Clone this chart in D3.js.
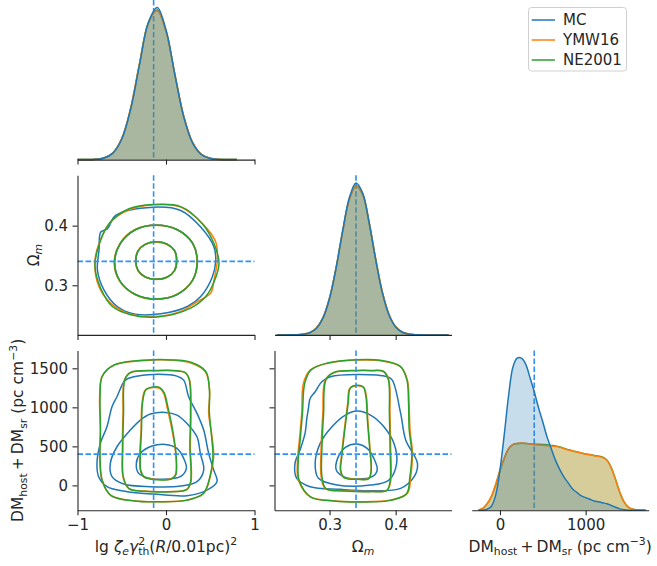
<!DOCTYPE html>
<html>
<head>
<meta charset="utf-8">
<script src="https://cdn.jsdelivr.net/npm/d3@7"></script>
<style>
  body { margin: 0; background: #fff; }
  svg { display: block; }
</style>
</head>
<body>
<div id="corner"></div>
<script>

// series and fiducial values
var series = ["MC", "YMW16", "NE2001"];
var colors = ["#1f77b4", "#ff7f0e", "#2ca02c"];
var truth_lg = -0.14, truth_om = 0.34, truth_dm = 400;

// tick values
var lg_ticks = [-1, 0, 1];
var om_ticks = [0.3, 0.4];
var dm_ticks_x = [0, 1000];
var dm_ticks_y = [0, 500, 1000, 1500];

// 1D marginal densities
var lg_grid = [-1.0, -0.9, -0.8, -0.7, -0.6, -0.5, -0.4, -0.3, -0.2, -0.1, 0.0, 0.1, 0.2, 0.3, 0.4, 0.5, 0.6, 0.7, 0.8];
var lg_dens_mc  = [0, 0.001, 0.004, 0.021, 0.087, 0.277, 0.677, 1.272, 1.839, 2.043, 1.745, 1.145, 0.578, 0.224, 0.067, 0.015, 0.003, 0.0005, 0];
var lg_dens_ymw = [0, 0.002, 0.006, 0.024, 0.092, 0.285, 0.690, 1.290, 1.830, 2.000, 1.720, 1.150, 0.590, 0.235, 0.072, 0.018, 0.004, 0.001, 0];
var lg_dens_ne  = [0, 0.001, 0.005, 0.022, 0.089, 0.280, 0.680, 1.280, 1.840, 2.010, 1.730, 1.140, 0.580, 0.230, 0.070, 0.017, 0.004, 0.001, 0];

var om_grid = [0.22, 0.23, 0.24, 0.25, 0.26, 0.27, 0.28, 0.29, 0.30, 0.31, 0.32, 0.33, 0.34, 0.35, 0.36, 0.37, 0.38, 0.39, 0.40, 0.41, 0.42, 0.43, 0.44, 0.45, 0.46, 0.47, 0.48];
var om_dens_mc  = [0, 0.0005, 0.003, 0.015, 0.063, 0.23, 0.70, 1.81, 3.96, 7.27, 11.31, 14.82, 16.40, 15.33, 12.10, 8.06, 4.53, 2.15, 0.86, 0.29, 0.084, 0.02, 0.004, 0.001, 0, 0, 0];
var om_dens_ymw = [0, 0.001, 0.004, 0.018, 0.07, 0.25, 0.74, 1.86, 3.98, 7.25, 11.20, 14.60, 16.05, 15.20, 12.10, 8.15, 4.60, 2.20, 0.90, 0.31, 0.09, 0.025, 0.006, 0.001, 0, 0, 0];
var om_dens_ne  = [0, 0.001, 0.004, 0.017, 0.068, 0.24, 0.73, 1.85, 3.99, 7.30, 11.25, 14.65, 16.10, 15.15, 12.00, 8.05, 4.55, 2.18, 0.88, 0.30, 0.088, 0.022, 0.005, 0.001, 0, 0, 0];

var dm_grid = [-250, -200, -150, -100, -50, 0, 50, 100, 150, 200, 250, 300, 350, 400, 450, 500, 550, 600, 650, 700,
               750, 800, 850, 900, 950, 1000, 1050, 1100, 1150, 1200, 1250, 1300, 1350, 1400, 1450, 1500, 1550, 1600, 1650, 1700];
var dm_dens_mc  = [0, 0, 0.012, 0.048, 0.18, 0.48, 0.90, 1.36, 1.70, 1.81, 1.81, 1.74, 1.58, 1.41, 1.22, 1.05, 0.87, 0.73, 0.59, 0.48,
                   0.39, 0.32, 0.25, 0.21, 0.17, 0.15, 0.13, 0.11, 0.10, 0.088, 0.076, 0.056, 0.036, 0.016, 0.004, 0, 0, 0, 0, 0];
var dm_dens_ymw = [0.004, 0.024, 0.08, 0.168, 0.312, 0.48, 0.62, 0.736, 0.784, 0.796, 0.80, 0.796, 0.788, 0.78, 0.776, 0.772, 0.768, 0.764, 0.76, 0.748,
                   0.732, 0.716, 0.704, 0.692, 0.68, 0.668, 0.66, 0.648, 0.64, 0.628, 0.592, 0.50, 0.36, 0.208, 0.096, 0.036, 0.012, 0.004, 0, 0];
var dm_dens_ne  = [0.003, 0.02, 0.075, 0.16, 0.30, 0.47, 0.615, 0.73, 0.78, 0.792, 0.796, 0.794, 0.79, 0.786, 0.784, 0.782, 0.78, 0.772, 0.764, 0.752,
                   0.736, 0.72, 0.706, 0.694, 0.682, 0.67, 0.662, 0.652, 0.644, 0.632, 0.596, 0.505, 0.365, 0.21, 0.095, 0.034, 0.011, 0.003, 0, 0];

// 2D credible contours [outer, middle, inner], points in data units
// lg vs Omega_m
var lgom_mc = [
  [[-0.142,0.431],[0.166,0.4255],[0.392,0.3977],[0.542,0.3643],[0.562,0.342],[0.524,0.3143],[0.392,0.281],[0.242,0.2643],[-0.06,0.252],[-0.362,0.252],[-0.55,0.2643],[-0.70,0.292],[-0.775,0.3255],[-0.757,0.3588],[-0.737,0.3893],[-0.66,0.395],[-0.568,0.4172]],
  [[0.355,0.3386],[0.300,0.3705],[0.125,0.3935],[-0.112,0.4012],[-0.345,0.393],[-0.515,0.3700],[-0.579,0.3380],[-0.520,0.3070],[-0.350,0.2850],[-0.105,0.2770],[0.128,0.2845],[0.296,0.3075]],
  [[0.122,0.3413],[0.097,0.3585],[0.012,0.3690],[-0.108,0.3726],[-0.228,0.3692],[-0.312,0.3580],[-0.340,0.3413],[-0.315,0.3248],[-0.232,0.3138],[-0.110,0.3100],[0.010,0.3136],[0.096,0.3244]]
];
var lgom_ymw = [
  [[-0.142,0.435],[0.166,0.4311],[0.43,0.4005],[0.562,0.3727],[0.58,0.342],[0.542,0.3088],[0.505,0.2867],[0.355,0.2727],[0.166,0.256],[-0.136,0.2477],[-0.436,0.2533],[-0.625,0.27],[-0.757,0.2977],[-0.805,0.3367],[-0.757,0.37],[-0.625,0.406],[-0.436,0.4255]],
  [[0.350,0.3390],[0.305,0.3700],[0.130,0.3930],[-0.115,0.4005],[-0.350,0.3935],[-0.525,0.3690],[-0.585,0.3385],[-0.525,0.3070],[-0.345,0.2840],[-0.110,0.2765],[0.125,0.2850],[0.300,0.3080]],
  [[0.118,0.3410],[0.094,0.3580],[0.008,0.3688],[-0.112,0.3722],[-0.232,0.3688],[-0.318,0.3576],[-0.345,0.3410],[-0.318,0.3244],[-0.230,0.3134],[-0.108,0.3098],[0.012,0.3134],[0.094,0.3242]]
];
var lgom_ne = [
  [[-0.142,0.4355],[0.166,0.432],[0.411,0.4033],[0.542,0.37],[0.599,0.3367],[0.542,0.3055],[0.449,0.281],[0.279,0.2617],[-0.097,0.2467],[-0.399,0.2505],[-0.606,0.2643],[-0.738,0.295],[-0.802,0.331],[-0.775,0.3588],[-0.644,0.4033],[-0.418,0.4283]],
  [[0.352,0.3388],[0.302,0.3702],[0.127,0.3932],[-0.112,0.4008],[-0.348,0.3932],[-0.520,0.3695],[-0.582,0.3384],[-0.522,0.3072],[-0.348,0.2845],[-0.108,0.2768],[0.126,0.2848],[0.298,0.3078]],
  [[0.120,0.3412],[0.095,0.3582],[0.010,0.3692],[-0.110,0.3728],[-0.230,0.3690],[-0.315,0.3578],[-0.342,0.3412],[-0.316,0.3246],[-0.231,0.3136],[-0.109,0.3099],[0.011,0.3135],[0.095,0.3243]]
];

// lg vs DM
var lgdm_mc = [
  [[-0.14,1422],[-0.365,1392],[-0.46,1349],[-0.554,1136],[-0.61,1008],[-0.667,752],[-0.742,538],[-0.78,282],[-0.761,111],[-0.667,-17],[-0.44,-81],[-0.14,-111],[0.237,-132],[0.463,-60],[0.576,47],[0.539,196],[0.482,410],[0.426,709],[0.35,922],[0.256,1136],[0.2,1349],[0.124,1400]],
  [[-0.008,935],[-0.177,914],[-0.29,837],[-0.403,709],[-0.554,495],[-0.629,282],[-0.61,111],[-0.478,17],[-0.177,-17],[0.162,-9],[0.35,47],[0.426,196],[0.388,410],[0.35,623],[0.237,794],[0.124,901]],
  [[-0.008,525],[-0.158,504],[-0.29,410],[-0.335,282],[-0.309,154],[-0.177,90],[0.011,81],[0.162,111],[0.23,218],[0.2,346],[0.124,474]]
];
var lgdm_ymw = [
  [[-0.14,1605],[-0.59,1541],[-0.723,1392],[-0.75,1136],[-0.742,709],[-0.75,367],[-0.723,68],[-0.629,-124],[-0.365,-196],[-0.064,-209],[0.237,-188],[0.426,-102],[0.50,111],[0.539,367],[0.52,623],[0.482,922],[0.493,1221],[0.444,1456],[0.275,1571],[0.049,1605]],
  [[-0.10,1469],[-0.403,1443],[-0.47,1349],[-0.486,922],[-0.493,495],[-0.486,111],[-0.422,-38],[-0.252,-73],[0.011,-81],[0.237,-51],[0.282,47],[0.275,495],[0.282,922],[0.267,1349],[0.218,1443],[0.087,1469]],
  [[-0.14,1255],[-0.234,1221],[-0.271,1050],[-0.282,709],[-0.298,367],[-0.29,196],[-0.252,111],[-0.102,77],[0.049,81],[0.105,132],[0.113,367],[0.068,709],[0.011,1008],[-0.026,1179],[-0.072,1243]]
];
var lgdm_ne = [
  [[-0.14,1610],[-0.58,1545],[-0.72,1400],[-0.745,1140],[-0.74,700],[-0.745,370],[-0.72,60],[-0.62,-130],[-0.36,-200],[-0.07,-210],[0.23,-192],[0.42,-108],[0.495,105],[0.53,360],[0.515,630],[0.49,930],[0.49,1230],[0.45,1460],[0.28,1578],[0.05,1608]],
  [[-0.10,1472],[-0.40,1448],[-0.465,1355],[-0.48,925],[-0.488,490],[-0.482,105],[-0.418,-42],[-0.25,-76],[0.01,-84],[0.233,-55],[0.278,45],[0.27,500],[0.277,925],[0.263,1352],[0.215,1447],[0.085,1472]],
  [[-0.13,1262],[-0.225,1228],[-0.265,1060],[-0.277,710],[-0.29,370],[-0.285,190],[-0.245,105],[-0.10,72],[0.05,77],[0.108,128],[0.115,370],[0.075,710],[0.02,1010],[-0.02,1185],[-0.065,1250]]
];

// Omega_m vs DM
var omdm_mc = [
  [[0.3416,1422],[0.301,1392],[0.2883,1328],[0.2782,1200],[0.2706,1114],[0.268,986],[0.2655,850],[0.2629,666],[0.2553,453],[0.2477,282],[0.2503,90],[0.2706,-17],[0.3162,-51],[0.3619,-68],[0.4076,-38],[0.428,111],[0.433,282],[0.4152,581],[0.4076,922],[0.3949,1349],[0.3873,1392]],
  [[0.3416,952],[0.3239,901],[0.3036,752],[0.2858,538],[0.2782,282],[0.2832,90],[0.3112,4],[0.3619,4],[0.3898,68],[0.4015,282],[0.3975,538],[0.3822,752],[0.3619,901]],
  [[0.3416,529],[0.3239,487],[0.3122,346],[0.3102,196],[0.3213,111],[0.3416,81],[0.3645,111],[0.3721,196],[0.367,346],[0.3569,474]]
];
var omdm_ymw = [
  [[0.3416,1605],[0.296,1563],[0.2706,1477],[0.2604,1307],[0.2579,922],[0.2543,581],[0.2513,282],[0.2528,68],[0.2706,-145],[0.3061,-196],[0.3467,-209],[0.3924,-188],[0.4178,-102],[0.4228,111],[0.4254,410],[0.4218,709],[0.4203,1050],[0.4178,1349],[0.4076,1520],[0.3772,1597]],
  [[0.3416,1469],[0.3061,1443],[0.2934,1349],[0.2898,922],[0.2873,495],[0.2873,111],[0.2934,-38],[0.3213,-68],[0.3619,-77],[0.3873,-60],[0.3924,47],[0.3924,495],[0.3914,922],[0.3898,1349],[0.3822,1456],[0.3619,1469]],
  [[0.3416,1277],[0.3305,1243],[0.3274,1050],[0.3223,709],[0.3178,367],[0.3162,196],[0.3213,102],[0.3416,81],[0.3594,90],[0.3629,196],[0.361,495],[0.3579,837],[0.3558,1136],[0.3518,1255]]
];
var omdm_ne = [
  [[0.3416,1610],[0.297,1568],[0.272,1480],[0.2625,1310],[0.259,925],[0.2555,580],[0.2525,285],[0.254,65],[0.2715,-150],[0.3065,-200],[0.347,-212],[0.392,-192],[0.4165,-106],[0.4215,110],[0.4245,410],[0.4205,712],[0.4195,1055],[0.417,1352],[0.407,1524],[0.377,1602]],
  [[0.3416,1472],[0.3065,1447],[0.2945,1352],[0.291,925],[0.2885,495],[0.2885,108],[0.2945,-42],[0.322,-72],[0.3615,-80],[0.3865,-63],[0.3915,45],[0.3915,495],[0.3905,925],[0.389,1352],[0.3815,1460],[0.3615,1472]],
  [[0.342,1282],[0.3315,1248],[0.3282,1055],[0.323,710],[0.3185,367],[0.317,192],[0.322,98],[0.342,77],[0.3595,86],[0.363,195],[0.3605,495],[0.3572,840],[0.355,1140],[0.351,1260]]
];

// layout
var width = 657, height = 566;
var cols = [77.5, 274.5, 471.7], pw = 177;
var rows = [0, 175.3, 350.6], ph = 159.6;
var dash_color = "#2f92f7";
var axis_color = "#262626";
var font = "'DejaVu Sans', sans-serif";

var svg = d3.select("#corner")
      .append("svg")
      .attr("width", width)
      .attr("height", height)
      .style("font-family", font);

var x_lg = d3.scaleLinear().domain([-1, 1]).range([cols[0], cols[0] + pw]);
var x_om = d3.scaleLinear().domain([0.2167, 0.4845]).range([cols[1], cols[1] + pw]);
var x_dm = d3.scaleLinear().domain([-330, 1736]).range([cols[2], cols[2] + pw]);
var y_om = d3.scaleLinear().domain([0.2167, 0.4845]).range([rows[1] + ph, rows[1]]);
var y_dm = d3.scaleLinear().domain([-318, 1727]).range([rows[2] + ph, rows[2]]);

function truth_v(xs, xv, row) {
      svg.append("line")
            .attr("x1", xs(xv)).attr("x2", xs(xv))
            .attr("y1", rows[row]).attr("y2", rows[row] + ph)
            .attr("stroke", dash_color).attr("stroke-width", 1.6)
            .attr("stroke-dasharray", "5.5,2.5");
}
function truth_h(ys, yv, col) {
      svg.append("line")
            .attr("x1", cols[col]).attr("x2", cols[col] + pw)
            .attr("y1", ys(yv)).attr("y2", ys(yv))
            .attr("stroke", dash_color).attr("stroke-width", 1.6)
            .attr("stroke-dasharray", "5.5,2.5");
}

function draw_diag(xs, row, grid, dens, truth) {
      var ymax = d3.max(dens, function (d) { return d3.max(d); }) * 1.05;
      var ys = d3.scaleLinear().domain([0, ymax]).range([rows[row] + ph, rows[row]]);

      truth_v(xs, truth, row);

      var area = d3.area()
            .x(function (d, i) { return xs(grid[i]); })
            .y0(ys(0))
            .y1(function (d) { return ys(d); })
            .curve(d3.curveCatmullRom);
      var line = d3.line()
            .x(function (d, i) { return xs(grid[i]); })
            .y(function (d) { return ys(d); })
            .curve(d3.curveCatmullRom);

      // seaborn layers the first hue on top
      for (var k = dens.length - 1; k >= 0; k--) {
            svg.append("path").attr("d", area(dens[k]))
                  .attr("fill", colors[k]).attr("fill-opacity", 0.25);
            svg.append("path").attr("d", line(dens[k]))
                  .attr("fill", "none").attr("stroke", colors[k]).attr("stroke-width", 1.5);
      }
}

function draw_pair(xs, ys, sets, tx, ty, row, col) {
      var line = d3.line()
            .x(function (d) { return xs(d[0]); })
            .y(function (d) { return ys(d[1]); })
            .curve(d3.curveCatmullRomClosed.alpha(0.5));
      for (var k = 0; k < sets.length; k++) {
            sets[k].forEach(function (c) {
                  svg.append("path").attr("d", line(c))
                        .attr("fill", "none").attr("stroke", colors[k])
                        .attr("stroke-width", 1.5).attr("stroke-linejoin", "round");
            });
      }
      truth_v(xs, tx, row);
      truth_h(ys, ty, col);
}

draw_diag(x_lg, 0, lg_grid, [lg_dens_mc, lg_dens_ymw, lg_dens_ne], truth_lg);
draw_diag(x_om, 1, om_grid, [om_dens_mc, om_dens_ymw, om_dens_ne], truth_om);
draw_diag(x_dm, 2, dm_grid, [dm_dens_mc, dm_dens_ymw, dm_dens_ne], truth_dm);

draw_pair(x_lg, y_om, [lgom_mc, lgom_ymw, lgom_ne], truth_lg, truth_om, 1, 0);
draw_pair(x_lg, y_dm, [lgdm_mc, lgdm_ymw, lgdm_ne], truth_lg, truth_dm, 2, 0);
draw_pair(x_om, y_dm, [omdm_mc, omdm_ymw, omdm_ne], truth_om, truth_dm, 2, 1);

// axes
function fmt_num(v) {
      if (v < 0) return "\u2212" + Math.abs(v);
      return String(v);
}
function style_axis(g) {
      g.select(".domain").attr("stroke", axis_color).attr("stroke-width", 1.1);
      g.selectAll(".tick line").attr("stroke", axis_color).attr("stroke-width", 1.1);
      g.selectAll(".tick text").attr("fill", axis_color).style("font-size", "15px").style("font-family", font);
      g.attr("font-size", null).attr("font-family", null);
}
function x_axis(xs, ticks, row, labels) {
      var ax = d3.axisBottom(xs).tickValues(ticks).tickSize(5).tickPadding(4.5).tickSizeOuter(0)
            .tickFormat(labels ? fmt_num : function () { return ""; });
      svg.append("g").attr("transform", "translate(0," + (rows[row] + ph) + ")").call(ax).call(style_axis);
}
function y_axis(ys, ticks, col, labels) {
      var ax = d3.axisLeft(ys).tickValues(ticks).tickSize(5).tickPadding(4.5).tickSizeOuter(0)
            .tickFormat(labels ? fmt_num : function () { return ""; });
      svg.append("g").attr("transform", "translate(" + cols[col] + ",0)").call(ax).call(style_axis);
}

x_axis(x_lg, lg_ticks, 0, false);
x_axis(x_lg, lg_ticks, 1, false);
x_axis(x_lg, lg_ticks, 2, true);
x_axis(x_om, om_ticks, 1, false);
x_axis(x_om, om_ticks, 2, true);
x_axis(x_dm, dm_ticks_x, 2, true);
y_axis(y_om, om_ticks, 0, true);
y_axis(y_dm, dm_ticks_y, 0, true);
y_axis(y_dm, dm_ticks_y, 1, false);

// mathtext-like labels
function rich(txt, parts, fs) {
      var cur = 0;
      parts.forEach(function (p) {
            var off = p.sub ? 0.24 * fs : (p.sup ? -0.42 * fs : 0);
            var ts = txt.append("tspan").text(p.t).attr("dy", off - cur);
            cur = off;
            if (p.sub || p.sup) ts.attr("font-size", 0.7 * fs);
            if (p.it) ts.attr("font-style", "italic");
            if (p.dx) ts.attr("dx", p.dx);
      });
}
var label_fs = 15.5;
function label(x, y, rot, parts) {
      var t = svg.append("text")
            .attr("transform", "translate(" + x + "," + y + ")" + (rot ? " rotate(-90)" : ""))
            .attr("text-anchor", "middle")
            .attr("font-size", label_fs)
            .attr("fill", axis_color);
      rich(t, parts, label_fs);
}

var dm_label = [
      { t: "DM" }, { t: "host", sub: true }, { t: "\u2009+\u2009DM" }, { t: "sr", sub: true },
      { t: " (pc cm" }, { t: "\u22123", sup: true }, { t: ")" }
];

label(cols[0] + pw / 2, 551.5, false, [
      { t: "lg " }, { t: "\u03b6", it: true }, { t: "e", it: true, sub: true },
      { t: "\u03b3", it: true }, { t: "2", sup: true }, { t: "th", sub: true, dx: -6.9 },
      { t: "(" }, { t: "R", it: true }, { t: "/0.01pc)" }, { t: "2", sup: true }
]);
label(cols[1] + pw / 2, 551.5, false, [{ t: "\u03a9" }, { t: "m", it: true, sub: true }]);
label(cols[2] + pw / 2, 551.5, false, dm_label);
label(38.5, rows[1] + ph / 2, true, [{ t: "\u03a9" }, { t: "m", it: true, sub: true }]);
label(23, rows[2] + ph / 2, true, dm_label);

// legend
var lg = svg.append("g");
lg.append("rect")
      .attr("x", 528.5).attr("y", 7.5).attr("width", 98).attr("height", 63.5)
      .attr("rx", 3).attr("fill", "#fff").attr("fill-opacity", 0.8)
      .attr("stroke", "#d0d0d0").attr("stroke-width", 1);
series.forEach(function (s, i) {
      var yy = 20 + i * 20;
      lg.append("line").attr("x1", 531.7).attr("x2", 555).attr("y1", yy).attr("y2", yy)
            .attr("stroke", colors[i]).attr("stroke-width", 1.5);
      lg.append("text").attr("x", 563).attr("y", yy).attr("dy", "0.36em")
            .attr("font-size", 15).attr("fill", axis_color).text(s);
});

</script>
</body>
</html>
